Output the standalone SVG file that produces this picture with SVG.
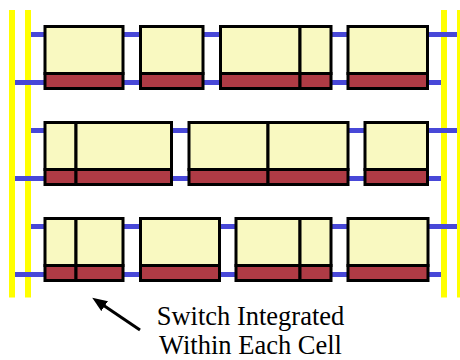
<svg xmlns="http://www.w3.org/2000/svg" width="460" height="360" viewBox="0 0 460 360">
<defs>
<style>
.bar{fill:#FFFF00}
.rail{stroke:#4848D8;stroke-width:5;fill:none}
.top{fill:#F9F9C1;stroke:#000;stroke-width:3}
.bot{fill:#AF3B45;stroke:#000;stroke-width:3}
.lbl{font-size:26.5px;fill:#000;text-anchor:middle}
</style>
<marker id="ah" markerUnits="userSpaceOnUse" markerWidth="16" markerHeight="13" refX="2" refY="6" orient="auto">
<path d="M0,0 L15,6 L0,12 z" fill="#000"/>
</marker>
</defs>
<rect width="460" height="360" fill="#fff"/>
<g id="power-bars">
<rect class="bar" x="9" y="10" width="6" height="287.5"/>
<rect class="bar" x="25" y="10" width="6" height="287.5"/>
<rect class="bar" x="441" y="10" width="6" height="287.5"/>
<rect class="bar" x="457" y="10" width="6" height="287.5"/>
</g>
<g id="connectors">
<line class="rail" x1="31" y1="34.5" x2="457" y2="34.5"/>
<line class="rail" x1="15" y1="82.5" x2="441" y2="82.5"/>
<line class="rail" x1="31" y1="130.5" x2="457" y2="130.5"/>
<line class="rail" x1="15" y1="178.5" x2="441" y2="178.5"/>
<line class="rail" x1="31" y1="226.5" x2="457" y2="226.5"/>
<line class="rail" x1="15" y1="274.5" x2="441" y2="274.5"/>
<line x1="140" y1="330" x2="103" y2="305" stroke="#000" stroke-width="3" marker-end="url(#ah)"/>
</g>
<g id="r1c1"><rect class="top" x="45" y="26.5" width="78" height="47"/><rect class="bot" x="45" y="73.5" width="78" height="15"/></g>
<g id="r1c2"><rect class="top" x="140.5" y="26.5" width="62.5" height="47"/><rect class="bot" x="140.5" y="73.5" width="62.5" height="15"/></g>
<g id="r1c3"><rect class="top" x="220.5" y="26.5" width="79.5" height="47"/><rect class="bot" x="220.5" y="73.5" width="79.5" height="15"/></g>
<g id="r1c4"><rect class="top" x="300" y="26.5" width="31" height="47"/><rect class="bot" x="300" y="73.5" width="31" height="15"/></g>
<g id="r1c5"><rect class="top" x="348" y="26.5" width="79.5" height="47"/><rect class="bot" x="348" y="73.5" width="79.5" height="15"/></g>
<g id="r2c1"><rect class="top" x="45" y="122.5" width="31" height="47"/><rect class="bot" x="45" y="169.5" width="31" height="15"/></g>
<g id="r2c2"><rect class="top" x="76" y="122.5" width="95.5" height="47"/><rect class="bot" x="76" y="169.5" width="95.5" height="15"/></g>
<g id="r2c3"><rect class="top" x="189" y="122.5" width="79" height="47"/><rect class="bot" x="189" y="169.5" width="79" height="15"/></g>
<g id="r2c4"><rect class="top" x="268" y="122.5" width="80" height="47"/><rect class="bot" x="268" y="169.5" width="80" height="15"/></g>
<g id="r2c5"><rect class="top" x="365" y="122.5" width="62.5" height="47"/><rect class="bot" x="365" y="169.5" width="62.5" height="15"/></g>
<g id="r3c1"><rect class="top" x="45" y="218.5" width="31" height="47"/><rect class="bot" x="45" y="265.5" width="31" height="15"/></g>
<g id="r3c2"><rect class="top" x="76" y="218.5" width="47" height="47"/><rect class="bot" x="76" y="265.5" width="47" height="15"/></g>
<g id="r3c3"><rect class="top" x="140.5" y="218.5" width="79" height="47"/><rect class="bot" x="140.5" y="265.5" width="79" height="15"/></g>
<g id="r3c4"><rect class="top" x="236" y="218.5" width="64" height="47"/><rect class="bot" x="236" y="265.5" width="64" height="15"/></g>
<g id="r3c5"><rect class="top" x="300" y="218.5" width="31" height="47"/><rect class="bot" x="300" y="265.5" width="31" height="15"/></g>
<g id="r3c6"><rect class="top" x="348" y="218.5" width="80" height="47"/><rect class="bot" x="348" y="265.5" width="80" height="15"/></g>
<g id="label" font-family="'Liberation Serif', 'Times New Roman', 'DejaVu Serif', serif">
<text class="lbl" x="250.5" y="325">Switch Integrated</text>
<text class="lbl" x="250.5" y="354">Within Each Cell</text>
</g>
</svg>
